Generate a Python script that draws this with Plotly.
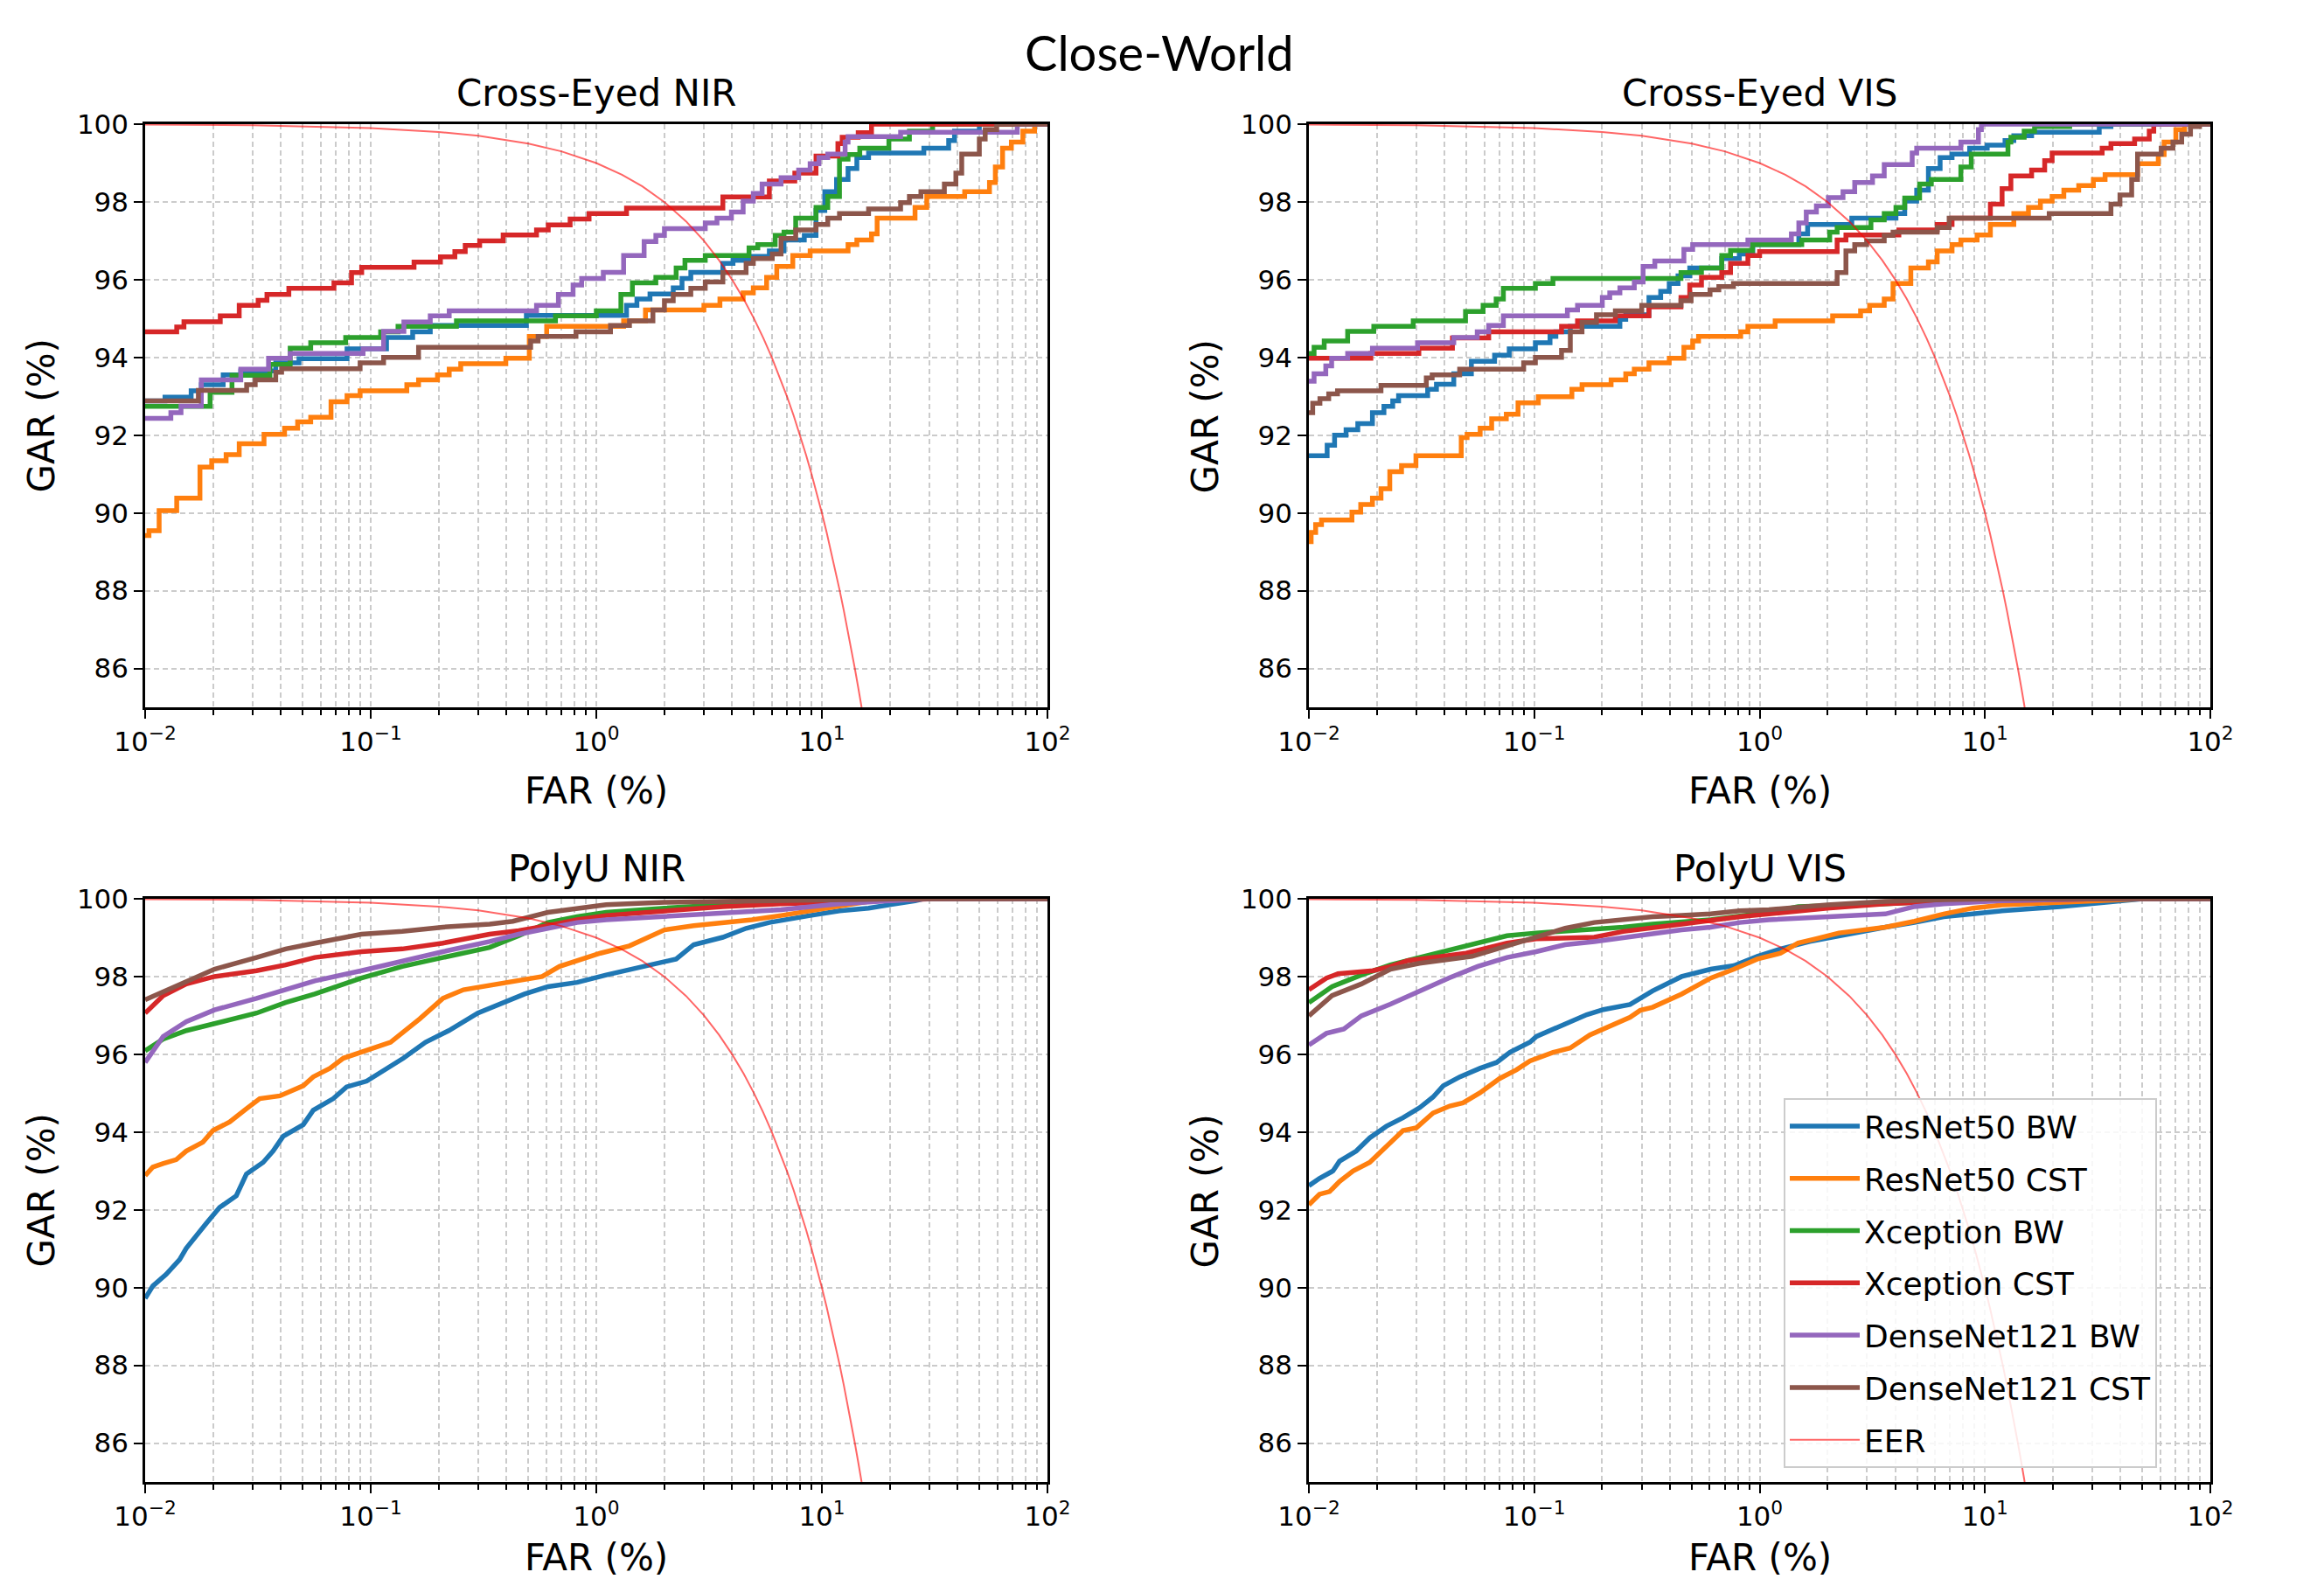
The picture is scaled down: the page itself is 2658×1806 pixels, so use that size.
import plotly.graph_objects as go

# ---------------- data ----------------
SERIES_NAMES = ["ResNet50 BW", "ResNet50 CST", "Xception BW", "Xception CST",
                "DenseNet121 BW", "DenseNet121 CST"]
SERIES_COLORS = ["#1f77b4", "#ff7f0e", "#2ca02c", "#d62728", "#9467bd", "#8c564b"]
PANEL_TITLES = ["Cross-Eyed NIR", "Cross-Eyed VIS", "PolyU NIR", "PolyU VIS"]
MAIN_TITLE = "Close-World"
Y_TICKS = [86, 88, 90, 92, 94, 96, 98, 100]
X_TICKS = [0.01, 0.1, 1, 10, 100]
X_TICK_LABELS = ["10<sup>−2</sup>", "10<sup>−1</sup>", "10<sup>0</sup>", "10<sup>1</sup>", "10<sup>2</sup>"]

# FAR is stored as log10(FAR %), GAR in %
# ---- Cross-Eyed NIR ----
CE_NIR_RN_BW_LOGFAR = [-2, -1.912, -1.796, -1.751, -1.654, -1.576, -1.421, -1.318, -1.105, -0.930, -0.814, -0.736, -0.310, 0.134, 0.180, 0.238, 0.341, 0.380, 0.419, 0.561, 0.606, 0.677, 0.767, 0.832, 0.922, 0.974, 1.013, 1.065, 1.116, 1.155, 1.207, 1.452, 1.562, 1.588, 1.698, 2]
CE_NIR_RN_BW_GAR = [92.88, 92.98, 93.14, 93.30, 93.55, 93.65, 93.86, 93.97, 94.22, 94.51, 94.66, 94.82, 95.08, 95.34, 95.50, 95.63, 95.79, 96.03, 96.19, 96.42, 96.50, 96.60, 96.74, 97.02, 97.14, 97.78, 98.26, 98.58, 98.86, 99.14, 99.26, 99.38, 99.58, 99.82, 100, 100]
CE_NIR_RN_CST_LOGFAR = [-2, -1.983, -1.938, -1.860, -1.757, -1.705, -1.641, -1.583, -1.473, -1.382, -1.324, -1.266, -1.176, -1.105, -1.047, -0.840, -0.788, -0.704, -0.652, -0.601, -0.401, -0.297, -0.220, 0.121, 0.218, 0.477, 0.548, 0.651, 0.696, 0.755, 0.800, 0.871, 0.948, 1.116, 1.155, 1.220, 1.245, 1.413, 1.465, 1.633, 1.743, 1.769, 1.801, 1.840, 1.891, 1.943, 2]
CE_NIR_RN_CST_GAR = [89.42, 89.54, 90.06, 90.38, 91.18, 91.34, 91.50, 91.78, 92.02, 92.18, 92.34, 92.46, 92.86, 93.02, 93.14, 93.30, 93.42, 93.55, 93.70, 93.84, 93.98, 94.54, 94.80, 94.94, 95.22, 95.34, 95.50, 95.66, 95.79, 96.06, 96.34, 96.62, 96.74, 96.90, 97.02, 97.18, 97.58, 97.86, 98.14, 98.26, 98.50, 98.90, 99.38, 99.54, 99.82, 100, 100]
CE_NIR_XC_BW_LOGFAR = [-2, -1.712, -1.615, -1.447, -1.357, -1.266, -1.111, -0.956, -0.879, -0.620, -0.181, 0.0, 0.109, 0.160, 0.264, 0.354, 0.393, 0.483, 0.677, 0.716, 0.793, 0.832, 0.884, 0.974, 1.026, 1.078, 1.116, 1.168, 1.297, 1.388, 1.491, 2]
CE_NIR_XC_BW_GAR = [92.74, 93.10, 93.54, 93.82, 94.24, 94.38, 94.51, 94.66, 94.80, 94.94, 95.07, 95.20, 95.62, 95.92, 96.06, 96.30, 96.50, 96.62, 96.82, 96.90, 97.14, 97.22, 97.58, 97.86, 98.14, 99.10, 99.22, 99.38, 99.62, 99.82, 100, 100]
CE_NIR_XC_CST_LOGFAR = [-2, -1.860, -1.828, -1.667, -1.583, -1.499, -1.460, -1.363, -1.163, -1.085, -1.040, -0.808, -0.691, -0.627, -0.581, -0.517, -0.413, -0.265, -0.213, -0.116, -0.032, 0.134, 0.561, 0.767, 0.880, 0.974, 1.071, 1.090, 1.161, 1.220, 2]
CE_NIR_XC_CST_GAR = [94.66, 94.78, 94.92, 95.07, 95.34, 95.47, 95.62, 95.78, 95.92, 96.18, 96.32, 96.45, 96.59, 96.72, 96.88, 97.00, 97.15, 97.28, 97.41, 97.56, 97.70, 97.84, 98.13, 98.54, 98.74, 99.18, 99.50, 99.66, 99.78, 100, 100]
CE_NIR_DN_BW_LOGFAR = [-2, -1.886, -1.841, -1.751, -1.576, -1.453, -1.357, -1.034, -0.943, -0.853, -0.736, -0.652, -0.265, -0.168, -0.103, -0.065, 0.031, 0.121, 0.212, 0.264, 0.302, 0.483, 0.535, 0.599, 0.651, 0.696, 0.735, 0.819, 0.897, 0.948, 0.987, 1.026, 1.103, 1.116, 1.349, 1.866, 2]
CE_NIR_DN_BW_GAR = [92.43, 92.58, 92.75, 93.42, 93.70, 93.98, 94.10, 94.22, 94.67, 94.91, 95.07, 95.20, 95.34, 95.62, 95.86, 96.03, 96.19, 96.62, 96.98, 97.14, 97.31, 97.46, 97.58, 97.74, 98.02, 98.22, 98.46, 98.62, 98.82, 98.98, 99.14, 99.23, 99.54, 99.68, 99.79, 100, 100]
CE_NIR_DN_CST_LOGFAR = [-2, -1.764, -1.550, -1.512, -1.421, -1.395, -1.047, -0.943, -0.788, -0.291, -0.258, -0.090, 0.063, 0.147, 0.251, 0.302, 0.341, 0.419, 0.483, 0.561, 0.664, 0.696, 0.780, 0.819, 0.884, 0.974, 1.026, 1.078, 1.207, 1.349, 1.388, 1.439, 1.543, 1.594, 1.620, 1.698, 1.724, 1.775, 2]
CE_NIR_DN_CST_GAR = [92.88, 93.15, 93.30, 93.42, 93.62, 93.71, 93.86, 94.00, 94.26, 94.42, 94.54, 94.66, 94.82, 94.94, 95.22, 95.46, 95.62, 95.78, 95.94, 96.18, 96.42, 96.54, 96.66, 97.06, 97.28, 97.42, 97.58, 97.70, 97.82, 97.98, 98.14, 98.26, 98.46, 98.74, 99.23, 99.62, 99.86, 100, 100]

# ---- Cross-Eyed VIS ----
CE_VIS_RN_BW_LOGFAR = [-2, -1.919, -1.886, -1.835, -1.783, -1.718, -1.667, -1.628, -1.602, -1.473, -1.434, -1.357, -1.279, -1.176, -1.111, -0.995, -0.930, -0.904, -0.840, -0.620, -0.594, -0.491, -0.439, -0.401, -0.362, -0.310, -0.168, -0.090, -0.030, 0.174, 0.213, 0.409, 0.605, 0.644, 0.697, 0.749, 0.801, 0.854, 0.932, 1.010, 1.089, 1.128, 1.207, 1.507, 1.559, 2]
CE_VIS_RN_BW_GAR = [91.47, 91.74, 92.00, 92.14, 92.30, 92.58, 92.74, 92.88, 93.02, 93.18, 93.31, 93.58, 93.90, 94.06, 94.22, 94.38, 94.54, 94.66, 94.80, 94.98, 95.10, 95.54, 95.70, 95.90, 96.10, 96.30, 96.54, 96.66, 96.90, 97.18, 97.42, 97.58, 97.70, 98.02, 98.30, 98.86, 99.14, 99.23, 99.38, 99.46, 99.58, 99.70, 99.79, 99.94, 100, 100]
CE_VIS_RN_CST_LOGFAR = [-2, -1.990, -1.970, -1.944, -1.809, -1.770, -1.718, -1.680, -1.641, -1.589, -1.525, -1.324, -1.298, -1.240, -1.189, -1.124, -1.072, -0.982, -0.833, -0.788, -0.659, -0.594, -0.556, -0.491, -0.401, -0.336, -0.297, -0.271, -0.084, -0.052, 0.069, 0.324, 0.448, 0.488, 0.553, 0.592, 0.671, 0.749, 0.788, 0.854, 0.893, 0.965, 1.024, 1.128, 1.193, 1.246, 1.298, 1.350, 1.416, 1.481, 1.533, 1.677, 1.769, 1.795, 1.847, 1.886, 2]
CE_VIS_RN_CST_GAR = [89.26, 89.50, 89.70, 89.82, 90.02, 90.22, 90.38, 90.62, 91.06, 91.22, 91.47, 91.94, 92.02, 92.18, 92.42, 92.54, 92.83, 92.99, 93.18, 93.30, 93.42, 93.58, 93.70, 93.86, 93.98, 94.26, 94.42, 94.54, 94.66, 94.80, 94.94, 95.07, 95.20, 95.34, 95.50, 95.90, 96.30, 96.46, 96.74, 96.90, 97.02, 97.15, 97.42, 97.70, 97.86, 98.02, 98.14, 98.30, 98.42, 98.58, 98.70, 98.98, 99.22, 99.54, 99.86, 100, 100]
CE_VIS_XC_BW_LOGFAR = [-2, -1.977, -1.932, -1.828, -1.712, -1.537, -1.305, -1.227, -1.169, -1.137, -0.995, -0.917, -0.349, -0.258, -0.168, -0.129, -0.032, 0.187, 0.311, 0.344, 0.494, 0.553, 0.605, 0.644, 0.710, 0.762, 0.893, 0.939, 1.102, 1.115, 1.174, 1.220, 1.376, 2]
CE_VIS_XC_BW_GAR = [94.10, 94.26, 94.42, 94.67, 94.80, 94.94, 95.18, 95.34, 95.50, 95.78, 95.90, 96.03, 96.18, 96.30, 96.62, 96.75, 96.90, 97.02, 97.22, 97.34, 97.54, 97.70, 97.86, 98.10, 98.46, 98.58, 98.90, 99.23, 99.54, 99.66, 99.82, 99.94, 100, 100]
CE_VIS_XC_CST_LOGFAR = [-2, -1.725, -1.512, -1.363, -1.202, -0.879, -0.808, -0.640, -0.491, -0.349, -0.310, -0.258, -0.168, -0.129, -0.052, 0.0, 0.344, 0.383, 0.618, 0.788, 0.854, 1.024, 1.076, 1.115, 1.207, 1.265, 1.298, 1.520, 1.559, 1.664, 1.729, 1.749, 2]
CE_VIS_XC_CST_GAR = [93.98, 94.10, 94.24, 94.50, 94.66, 94.80, 94.94, 95.07, 95.30, 95.54, 95.86, 96.06, 96.18, 96.42, 96.62, 96.72, 97.02, 97.15, 97.28, 97.42, 97.58, 97.94, 98.34, 98.67, 98.82, 99.06, 99.26, 99.38, 99.50, 99.62, 99.82, 100, 100]
CE_VIS_DN_BW_LOGFAR = [-2, -1.977, -1.925, -1.899, -1.828, -1.718, -1.518, -1.357, -1.253, -1.202, -1.137, -0.853, -0.808, -0.698, -0.665, -0.620, -0.556, -0.517, -0.465, -0.336, -0.297, -0.052, 0.141, 0.174, 0.207, 0.252, 0.305, 0.370, 0.422, 0.501, 0.553, 0.677, 0.697, 0.893, 0.971, 0.984, 2]
CE_VIS_DN_BW_GAR = [93.39, 93.58, 93.78, 93.98, 94.10, 94.24, 94.38, 94.51, 94.66, 94.82, 95.07, 95.22, 95.34, 95.54, 95.66, 95.79, 95.94, 96.34, 96.48, 96.78, 96.90, 97.02, 97.18, 97.46, 97.74, 97.90, 98.11, 98.26, 98.50, 98.67, 98.96, 99.26, 99.38, 99.54, 99.86, 100, 100]
CE_VIS_DN_CST_LOGFAR = [-2, -1.983, -1.951, -1.912, -1.873, -1.680, -1.479, -1.453, -1.331, -1.047, -0.995, -0.879, -0.840, -0.788, -0.724, -0.640, -0.523, -0.349, -0.304, -0.220, -0.181, -0.116, 0.344, 0.383, 0.422, 0.475, 0.553, 0.592, 0.788, 0.841, 1.285, 1.559, 1.599, 1.651, 1.677, 1.782, 1.834, 1.873, 1.912, 1.952, 2]
CE_VIS_DN_CST_GAR = [92.58, 92.82, 92.94, 93.06, 93.14, 93.28, 93.47, 93.55, 93.70, 93.86, 94.00, 94.18, 94.66, 94.90, 95.10, 95.20, 95.34, 95.46, 95.62, 95.74, 95.82, 95.90, 96.18, 96.74, 96.90, 97.00, 97.14, 97.22, 97.34, 97.58, 97.70, 97.94, 98.18, 98.58, 99.23, 99.38, 99.54, 99.74, 99.94, 100, 100]

# ---- PolyU NIR ----
PU_NIR_RN_BW_LOGFAR = [-2, -1.966, -1.907, -1.847, -1.818, -1.773, -1.729, -1.670, -1.596, -1.551, -1.477, -1.433, -1.388, -1.299, -1.255, -1.166, -1.107, -1.018, -0.959, -0.855, -0.757, -0.654, -0.525, -0.421, -0.318, -0.214, -0.085, 0.044, 0.173, 0.302, 0.354, 0.432, 0.561, 0.664, 0.767, 0.948, 1.078, 1.207, 1.336, 1.413, 1.45, 2]
PU_NIR_RN_BW_GAR = [89.72, 90.04, 90.34, 90.72, 91.01, 91.31, 91.65, 92.06, 92.36, 92.92, 93.22, 93.51, 93.89, 94.19, 94.56, 94.86, 95.16, 95.31, 95.53, 95.90, 96.31, 96.61, 97.06, 97.29, 97.55, 97.74, 97.85, 98.04, 98.22, 98.37, 98.45, 98.82, 99.01, 99.24, 99.39, 99.57, 99.69, 99.76, 99.87, 99.95, 100, 100]
PU_NIR_RN_CST_LOGFAR = [-2, -1.966, -1.921, -1.862, -1.818, -1.744, -1.699, -1.625, -1.551, -1.492, -1.403, -1.299, -1.255, -1.181, -1.121, -1.047, -0.912, -0.783, -0.680, -0.589, -0.473, -0.344, -0.240, -0.163, -0.059, 0.018, 0.147, 0.225, 0.302, 0.432, 0.561, 0.690, 0.819, 0.948, 1.078, 1.207, 1.336, 1.40, 2]
PU_NIR_RN_CST_GAR = [92.88, 93.10, 93.19, 93.29, 93.51, 93.74, 94.04, 94.26, 94.60, 94.86, 94.93, 95.19, 95.42, 95.64, 95.90, 96.05, 96.31, 96.91, 97.44, 97.66, 97.78, 97.89, 98.00, 98.26, 98.45, 98.60, 98.79, 99.01, 99.20, 99.31, 99.37, 99.46, 99.57, 99.69, 99.84, 99.93, 99.98, 100, 100]
PU_NIR_XC_BW_LOGFAR = [-2, -1.920, -1.817, -1.693, -1.506, -1.377, -1.248, -1.041, -0.860, -0.680, -0.473, -0.344, -0.214, -0.085, 0.044, 0.302, 0.561, 0.819, 1.078, 1.336, 2]
PU_NIR_XC_BW_GAR = [96.09, 96.39, 96.61, 96.80, 97.06, 97.33, 97.55, 97.96, 98.26, 98.49, 98.75, 99.05, 99.39, 99.54, 99.65, 99.76, 99.85, 99.93, 99.97, 100, 100]
PU_NIR_XC_CST_LOGFAR = [-2, -1.920, -1.817, -1.693, -1.506, -1.377, -1.248, -1.041, -0.860, -0.680, -0.473, -0.344, -0.214, -0.085, 0.044, 0.302, 0.561, 0.819, 1.336, 1.5, 2]
PU_NIR_XC_CST_GAR = [97.06, 97.51, 97.81, 98.00, 98.15, 98.30, 98.49, 98.64, 98.71, 98.86, 99.09, 99.18, 99.31, 99.46, 99.57, 99.69, 99.80, 99.87, 99.98, 100, 100]
PU_NIR_DN_BW_LOGFAR = [-2, -1.920, -1.817, -1.693, -1.506, -1.377, -1.248, -1.041, -0.860, -0.680, -0.473, -0.344, -0.214, -0.085, 0.044, 0.302, 0.561, 0.819, 1.078, 1.336, 1.45, 2]
PU_NIR_DN_BW_GAR = [95.79, 96.46, 96.84, 97.14, 97.44, 97.66, 97.89, 98.15, 98.41, 98.64, 98.90, 99.09, 99.24, 99.39, 99.46, 99.54, 99.65, 99.72, 99.87, 99.98, 100, 100]
PU_NIR_DN_CST_LOGFAR = [-2, -1.868, -1.693, -1.506, -1.377, -1.248, -1.041, -0.860, -0.680, -0.473, -0.370, -0.214, -0.085, 0.044, 0.302, 0.819, 1.336, 2]
PU_NIR_DN_CST_GAR = [97.40, 97.74, 98.19, 98.49, 98.71, 98.86, 99.09, 99.16, 99.27, 99.35, 99.42, 99.65, 99.76, 99.85, 99.91, 99.97, 100, 100]

# ---- PolyU VIS ----
PU_VIS_RN_BW_LOGFAR = [-2, -1.953, -1.893, -1.864, -1.790, -1.730, -1.656, -1.582, -1.508, -1.449, -1.404, -1.330, -1.241, -1.167, -1.108, -1.019, -0.990, -0.901, -0.841, -0.767, -0.693, -0.575, -0.475, -0.346, -0.217, -0.114, -0.010, 0.093, 0.222, 0.352, 0.558, 0.687, 0.817, 0.946, 1.075, 1.333, 1.592, 1.7, 2]
PU_VIS_RN_BW_GAR = [92.62, 92.81, 93.00, 93.25, 93.51, 93.85, 94.15, 94.37, 94.63, 94.90, 95.19, 95.42, 95.64, 95.79, 96.05, 96.31, 96.46, 96.69, 96.84, 97.02, 97.15, 97.28, 97.63, 98.00, 98.19, 98.28, 98.52, 98.71, 98.90, 99.05, 99.27, 99.39, 99.54, 99.61, 99.69, 99.80, 99.95, 100, 100]
PU_VIS_RN_CST_LOGFAR = [-2, -1.953, -1.908, -1.864, -1.804, -1.730, -1.656, -1.582, -1.523, -1.449, -1.375, -1.316, -1.241, -1.153, -1.079, -1.019, -0.916, -0.841, -0.753, -0.664, -0.575, -0.530, -0.475, -0.346, -0.217, -0.114, -0.010, 0.093, 0.171, 0.248, 0.352, 0.558, 0.687, 0.817, 0.946, 1.075, 1.333, 1.592, 1.7, 2]
PU_VIS_RN_CST_GAR = [92.13, 92.40, 92.47, 92.73, 93.00, 93.22, 93.63, 94.04, 94.11, 94.49, 94.67, 94.75, 95.01, 95.38, 95.60, 95.83, 96.05, 96.16, 96.50, 96.72, 96.95, 97.13, 97.21, 97.55, 97.96, 98.19, 98.45, 98.60, 98.86, 98.97, 99.12, 99.27, 99.42, 99.61, 99.76, 99.84, 99.91, 99.98, 100, 100]
PU_VIS_XC_BW_LOGFAR = [-2, -1.897, -1.767, -1.638, -1.509, -1.406, -1.251, -1.121, -0.992, -0.863, -0.734, -0.605, -0.475, -0.217, 0.041, 0.171, 0.558, 0.817, 1.075, 1.3, 2]
PU_VIS_XC_BW_GAR = [97.33, 97.74, 98.04, 98.30, 98.49, 98.64, 98.86, 99.05, 99.12, 99.16, 99.20, 99.27, 99.35, 99.46, 99.65, 99.80, 99.87, 99.95, 99.98, 100, 100]
PU_VIS_XC_CST_LOGFAR = [-2, -1.922, -1.871, -1.716, -1.638, -1.561, -1.406, -1.302, -1.121, -0.992, -0.734, -0.605, -0.346, -0.217, -0.088, 0.041, 0.300, 0.558, 0.817, 1.333, 1.5, 2]
PU_VIS_XC_CST_GAR = [97.66, 97.96, 98.07, 98.15, 98.26, 98.41, 98.52, 98.60, 98.86, 98.97, 99.01, 99.16, 99.35, 99.46, 99.54, 99.61, 99.76, 99.87, 99.93, 99.98, 100, 100]
PU_VIS_DN_BW_LOGFAR = [-2, -1.922, -1.845, -1.767, -1.638, -1.509, -1.380, -1.251, -1.121, -0.992, -0.863, -0.734, -0.605, -0.475, -0.346, -0.217, -0.088, 0.041, 0.300, 0.558, 0.687, 0.817, 1.075, 1.333, 1.5, 2]
PU_VIS_DN_BW_GAR = [96.24, 96.54, 96.65, 96.99, 97.29, 97.63, 97.96, 98.26, 98.49, 98.64, 98.82, 98.90, 99.01, 99.12, 99.20, 99.27, 99.39, 99.46, 99.54, 99.61, 99.80, 99.87, 99.95, 99.98, 100, 100]
PU_VIS_DN_CST_LOGFAR = [-2, -1.897, -1.767, -1.638, -1.509, -1.406, -1.276, -1.121, -0.992, -0.863, -0.734, -0.605, -0.475, -0.346, -0.217, -0.088, 0.041, 0.300, 0.558, 0.817, 1.1, 2]
PU_VIS_DN_CST_GAR = [96.99, 97.51, 97.81, 98.19, 98.34, 98.41, 98.52, 98.79, 99.01, 99.24, 99.39, 99.46, 99.54, 99.57, 99.61, 99.69, 99.72, 99.84, 99.93, 99.98, 100, 100]

# ---- EER reference line (GAR = 100 - FAR) ----
EER_FAR = [0.01, 0.03, 0.1, 0.2, 0.3, 0.5, 0.7, 1.0, 1.3, 1.6, 2.0, 2.5, 3.0, 3.5, 4.0, 4.5, 5.0, 5.5, 6.0, 6.5, 7.0, 7.5, 8.0, 8.5, 9.0, 9.5, 10.0, 10.5, 11.0, 11.5, 12.0, 12.5, 13.0, 13.5, 14.0, 14.5, 15.0]
EER_GAR = [99.99, 99.97, 99.9, 99.8, 99.7, 99.5, 99.3, 99.0, 98.7, 98.4, 98.0, 97.5, 97.0, 96.5, 96.0, 95.5, 95.0, 94.5, 94.0, 93.5, 93.0, 92.5, 92.0, 91.5, 91.0, 90.5, 90.0, 89.5, 89.0, 88.5, 88.0, 87.5, 87.0, 86.5, 86.0, 85.5, 85.0]

PANELS = [
    ([(CE_NIR_RN_BW_LOGFAR, CE_NIR_RN_BW_GAR), (CE_NIR_RN_CST_LOGFAR, CE_NIR_RN_CST_GAR),
      (CE_NIR_XC_BW_LOGFAR, CE_NIR_XC_BW_GAR), (CE_NIR_XC_CST_LOGFAR, CE_NIR_XC_CST_GAR),
      (CE_NIR_DN_BW_LOGFAR, CE_NIR_DN_BW_GAR), (CE_NIR_DN_CST_LOGFAR, CE_NIR_DN_CST_GAR)], "hv"),
    ([(CE_VIS_RN_BW_LOGFAR, CE_VIS_RN_BW_GAR), (CE_VIS_RN_CST_LOGFAR, CE_VIS_RN_CST_GAR),
      (CE_VIS_XC_BW_LOGFAR, CE_VIS_XC_BW_GAR), (CE_VIS_XC_CST_LOGFAR, CE_VIS_XC_CST_GAR),
      (CE_VIS_DN_BW_LOGFAR, CE_VIS_DN_BW_GAR), (CE_VIS_DN_CST_LOGFAR, CE_VIS_DN_CST_GAR)], "hv"),
    ([(PU_NIR_RN_BW_LOGFAR, PU_NIR_RN_BW_GAR), (PU_NIR_RN_CST_LOGFAR, PU_NIR_RN_CST_GAR),
      (PU_NIR_XC_BW_LOGFAR, PU_NIR_XC_BW_GAR), (PU_NIR_XC_CST_LOGFAR, PU_NIR_XC_CST_GAR),
      (PU_NIR_DN_BW_LOGFAR, PU_NIR_DN_BW_GAR), (PU_NIR_DN_CST_LOGFAR, PU_NIR_DN_CST_GAR)], "linear"),
    ([(PU_VIS_RN_BW_LOGFAR, PU_VIS_RN_BW_GAR), (PU_VIS_RN_CST_LOGFAR, PU_VIS_RN_CST_GAR),
      (PU_VIS_XC_BW_LOGFAR, PU_VIS_XC_BW_GAR), (PU_VIS_XC_CST_LOGFAR, PU_VIS_XC_CST_GAR),
      (PU_VIS_DN_BW_LOGFAR, PU_VIS_DN_BW_GAR), (PU_VIS_DN_CST_LOGFAR, PU_VIS_DN_CST_GAR)], "linear"),
]

# ---------------- layout geometry ----------------
W, H = 2658, 1806
X_DOMAINS = [[166 / W, 1198 / W], [1497 / W, 2528 / W]]
Y_DOMAINS = [[1 - 809 / H, 1 - 142 / H], [1 - 1695 / H, 1 - 1028 / H]]
FONT = "DejaVu Sans, Verdana, sans-serif"
GRID_COLOR = "#cbcbcb"
GRID_DASH = "6px,4px"
MINOR_TICKS = [m * 10.0 ** e for e in range(-2, 2) for m in range(2, 10)]

fig = go.Figure()

for p, (series, shape) in enumerate(PANELS):
    ax = "" if p == 0 else str(p + 1)
    for s, (lf, gar) in enumerate(series):
        fig.add_trace(go.Scatter(
            x=[10 ** v for v in lf], y=gar, mode="lines", line_shape=shape,
            line=dict(color=SERIES_COLORS[s], width=5.5),
            name=SERIES_NAMES[s], legendgroup=SERIES_NAMES[s], showlegend=(p == 0),
            xaxis="x" + ax, yaxis="y" + ax,
        ))
    fig.add_trace(go.Scatter(
        x=EER_FAR, y=EER_GAR, mode="lines",
        line=dict(color="rgba(255,0,0,0.6)", width=2),
        name="EER", legendgroup="EER", showlegend=(p == 0),
        xaxis="x" + ax, yaxis="y" + ax,
    ))

axes_layout = {}
for p in range(4):
    r, c = divmod(p, 2)
    ax = "" if p == 0 else str(p + 1)
    axes_layout["xaxis" + ax] = dict(
        domain=X_DOMAINS[c], anchor="y" + ax, type="log", range=[-2, 2], automargin=False,
        tickmode="array", tickvals=X_TICKS, ticktext=X_TICK_LABELS,
        ticks="outside", ticklen=10, tickwidth=2, tickcolor="black",
        showline=True, linecolor="black", linewidth=2.5, mirror=True,
        showgrid=True, gridcolor=GRID_COLOR, gridwidth=1.5, griddash=GRID_DASH,
        minor=dict(tickmode="array", tickvals=MINOR_TICKS, ticks="outside", ticklen=6,
                   tickwidth=1.5, tickcolor="black", showgrid=True,
                   gridcolor=GRID_COLOR, gridwidth=1.5, griddash=GRID_DASH),
        tickfont=dict(family=FONT, size=31, color="black"),
        zeroline=False,
    )
    axes_layout["yaxis" + ax] = dict(
        domain=Y_DOMAINS[r], anchor="x" + ax, range=[85, 100], automargin=False,
        tickmode="array", tickvals=Y_TICKS,
        ticks="outside", ticklen=10, tickwidth=2, tickcolor="black",
        showline=True, linecolor="black", linewidth=2.5, mirror=True,
        showgrid=True, gridcolor=GRID_COLOR, gridwidth=1.5, griddash=GRID_DASH,
        tickfont=dict(family=FONT, size=31, color="black"),
        zeroline=False,
    )

annotations = [dict(text=MAIN_TITLE, x=1326 / W, y=1 - 59 / H, xref="paper", yref="paper",
                    xanchor="center", yanchor="middle", showarrow=False,
                    font=dict(family="Lato, Open Sans, sans-serif", size=56, color="black"))]
for p in range(4):
    r, c = divmod(p, 2)
    xc = (X_DOMAINS[c][0] + X_DOMAINS[c][1]) / 2
    yc = (Y_DOMAINS[r][0] + Y_DOMAINS[r][1]) / 2
    xlab_y = (1 - 904 / H) if r == 0 else (1 - 1781 / H)
    annotations.append(dict(text=PANEL_TITLES[p], x=xc, y=Y_DOMAINS[r][1] + 35 / H,
                            xref="paper", yref="paper", xanchor="center", yanchor="middle",
                            showarrow=False, font=dict(family=FONT, size=42, color="black")))
    annotations.append(dict(text="FAR (%)", x=xc, y=xlab_y,
                            xref="paper", yref="paper", xanchor="center", yanchor="middle",
                            showarrow=False, font=dict(family=FONT, size=42, color="black")))
    annotations.append(dict(text="GAR (%)", x=X_DOMAINS[c][0] - 119 / W, y=yc, textangle=-90,
                            xref="paper", yref="paper", xanchor="center", yanchor="middle",
                            showarrow=False, font=dict(family=FONT, size=42, color="black")))

fig.update_layout(
    width=W, height=H, margin=dict(l=0, r=0, t=0, b=0, autoexpand=False),
    paper_bgcolor="white", plot_bgcolor="white",
    annotations=annotations,
    legend=dict(x=2040 / W, y=1 - 1256 / H, xanchor="left", yanchor="top",
                bgcolor="rgba(255,255,255,0.85)", bordercolor="#cccccc", borderwidth=2,
                font=dict(family=FONT, size=36, color="black"),
                itemwidth=80, tracegroupgap=10, traceorder="grouped"),
    **axes_layout,
)

fig.write_html("out.html")
